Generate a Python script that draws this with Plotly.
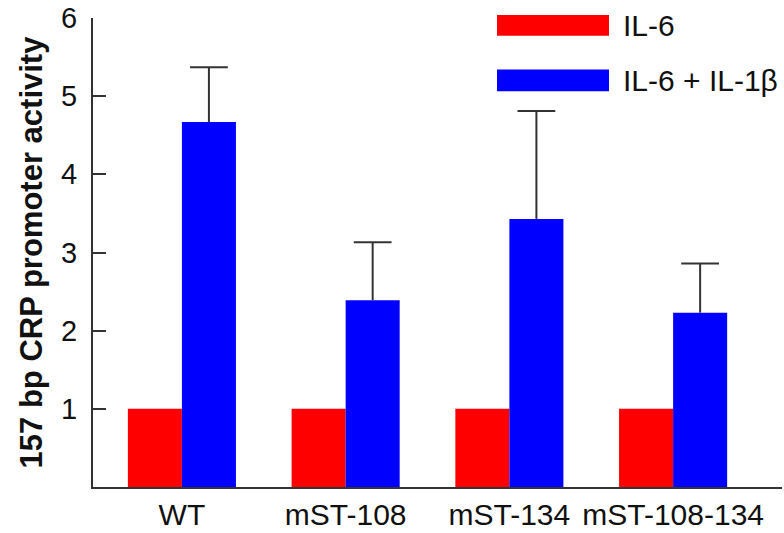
import plotly.graph_objects as go

categories = ["WT", "mST-108", "mST-134", "mST-108-134"]
il6 = [1.0, 1.0, 1.0, 1.0]
il6_il1b = [4.67, 2.39, 3.43, 2.23]
il6_il1b_err = [0.70, 0.74, 1.38, 0.63]
y_tick_vals = [0, 1, 2, 3, 4, 5, 6]
y_tick_text = ["", "1", "2", "3", "4", "5", "6"]
series_names = ["IL-6", "IL-6 + IL-1β"]

FONT = "Liberation Sans, Arial, sans-serif"
AX = "#333333"
TXT = "#111111"
BW = 0.33  # bar width in category units

idx = list(range(len(categories)))
blue_x = [i + BW / 2 for i in idx]
err_top = [v + e for v, e in zip(il6_il1b, il6_il1b_err)]

fig = go.Figure()
fig.add_trace(go.Bar(x=idx, y=il6, name=series_names[0], width=BW, offset=-BW,
                     marker=dict(color="#FF0000", line=dict(width=0)), showlegend=False))
fig.add_trace(go.Bar(x=idx, y=il6_il1b, name=series_names[1], width=BW, offset=0,
                     marker=dict(color="#0000FF", line=dict(width=0)), showlegend=False,
                     error_y=dict(type="data", array=il6_il1b_err, arrayminus=[0] * 4,
                                  symmetric=False, color=AX, thickness=2, width=0)))
# error bar caps (top only)
fig.add_trace(go.Scatter(x=blue_x, y=err_top, mode="markers", showlegend=False, hoverinfo="skip",
                         marker=dict(symbol="line-ew", size=27, line=dict(width=2, color=AX))))

W, H = 784, 533
L, R, T, B = 93, 2, 16, 44
pw, ph = W - L - R, H - T - B
def px(x): return (x - L) / pw
def py(y): return (H - B - y) / ph

# legend drawn manually (large swatches)
fig.add_shape(type="rect", xref="paper", yref="paper", x0=px(497), x1=px(609), y0=py(34), y1=py(13),
              fillcolor="#FF0000", line=dict(width=0))
fig.add_shape(type="rect", xref="paper", yref="paper", x0=px(497), x1=px(609), y0=py(90), y1=py(68),
              fillcolor="#0000FF", line=dict(width=0))
fig.add_annotation(xref="paper", yref="paper", x=px(621), y=py(24), text=series_names[0],
                   showarrow=False, xanchor="left", yanchor="middle",
                   font=dict(family=FONT, size=30, color=TXT))
fig.add_annotation(xref="paper", yref="paper", x=px(621), y=py(79), text=series_names[1],
                   showarrow=False, xanchor="left", yanchor="middle",
                   font=dict(family=FONT, size=30, color=TXT))

fig.update_layout(
    width=W, height=H, margin=dict(l=L, r=R, t=T, b=B),
    paper_bgcolor="white", plot_bgcolor="white",
    font=dict(family=FONT, size=30, color=TXT),
    xaxis=dict(range=[-0.543, 3.665], showline=True, linecolor=AX, linewidth=2,
               tickvals=idx, ticktext=categories,
               ticks="", showgrid=False, zeroline=False, tickfont=dict(size=30)),
    yaxis=dict(range=[0, 6], showline=True, linecolor=AX, linewidth=2,
               tickvals=y_tick_vals, ticktext=y_tick_text,
               ticks="inside", ticklen=13, tickwidth=2, tickcolor=AX, ticklabelstandoff=8,
               showgrid=False, zeroline=False, tickfont=dict(size=29),
               title=dict(text="<b>157 bp CRP promoter activity</b>", font=dict(size=31), standoff=9)),
)

fig.write_html("out.html", config={"displayModeBar": False},
               post_script="document.body.style.margin='0';")
